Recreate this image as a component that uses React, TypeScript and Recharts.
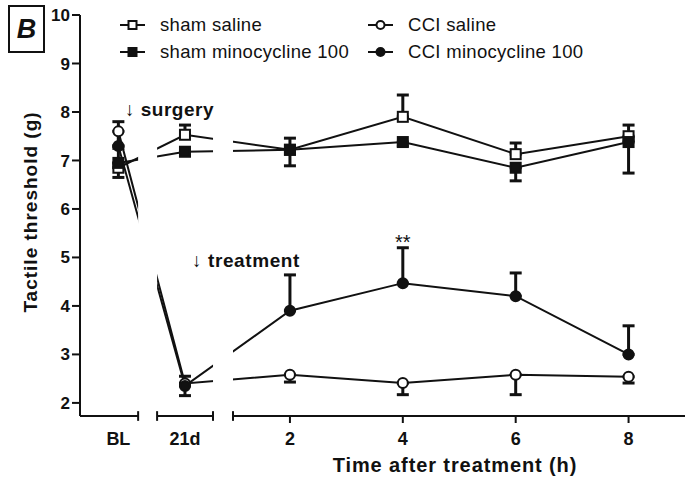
import React from 'react';
import {
  LineChart, Line, XAxis, YAxis, ErrorBar, ReferenceArea, ReferenceLine, ReferenceDot, Legend,
} from 'recharts';

const INK = '#111';
const FONT = '"Liberation Sans", Arial, Helvetica, sans-serif';

// groups: baseline, 21 days after surgery, then hours after treatment
const groupLabels = ['BL', '21d', '2', '4', '6', '8'];
const groupX = [-1.04, 0.14, 2, 4, 6, 8];
const hourTicks = [2, 4, 6, 8];
const yTicks = [2, 3, 4, 5, 6, 7, 8, 9, 10];

// mean tactile threshold (g) and SEM per group
const shamSaline = [6.85, 7.53, 7.22, 7.9, 7.13, 7.5];
const shamSalineSem = [0.4, 0.2, 0.24, 0.45, 0.23, 0.23];
const shamMino = [6.95, 7.18, 7.22, 7.38, 6.85, 7.38];
const shamMinoSem = [0.3, 0.08, 0.33, 0.08, 0.27, 0.64];
const cciSaline = [7.6, 2.4, 2.58, 2.41, 2.58, 2.54];
const cciSalineSem = [0.3, 0.25, 0.15, 0.24, 0.41, 0.13];
const cciMino = [7.3, 2.35, 3.9, 4.47, 4.2, 3.0];
const cciMinoSem = [0.5, 0.2, 0.74, 0.73, 0.48, 0.59];

const X_DOMAIN = [-1.72, 9];
const Y_DOMAIN = [1.73, 10];
// broken x axis: BL | 21d | hours
const axisPieces = [[-1.72, -0.69], [-0.354, 0.637], [0.991, 9]];
const breaks = [[-0.69, -0.354], [0.637, 0.991]];

// one-sided error bars, like the Prism original: [below, above]
const data = groupX.map((x, i) => ({
  x,
  shamSaline: shamSaline[i],
  shamSalineErr: [0, shamSalineSem[i]],
  shamMino: shamMino[i],
  shamMinoErr: [shamMinoSem[i], 0],
  cciSaline: cciSaline[i],
  cciSalineErr: [cciSalineSem[i], 0],
  cciMino: cciMino[i],
  cciMinoErr: [0, cciMinoSem[i]],
}));

const series = [
  { key: 'shamSaline', name: 'sham saline', shape: 'square', filled: false },
  { key: 'shamMino', name: 'sham minocycline 100', shape: 'square', filled: true },
  { key: 'cciSaline', name: 'CCI saline', shape: 'circle', filled: false },
  { key: 'cciMino', name: 'CCI minocycline 100', shape: 'circle', filled: true },
];
const legendOrder = ['shamSaline', 'cciSaline', 'shamMino', 'cciMino'];

function Marker({ cx, cy, shape, filled, size = 10 }: any) {
  if (cx == null || cy == null) return null;
  const fill = filled ? INK : '#fff';
  if (shape === 'square') {
    return <rect x={cx - size / 2} y={cy - size / 2} width={size} height={size} fill={fill} stroke={INK} strokeWidth={2} />;
  }
  return <circle cx={cx} cy={cy} r={size / 2} fill={fill} stroke={INK} strokeWidth={2} />;
}

function LegendBlock() {
  return (
    <div style={{ display: 'grid', gridTemplateColumns: '248px 270px', fontFamily: FONT, fontSize: 18.5, letterSpacing: 0.3, color: INK }}>
      {legendOrder.map(k => {
        const s = series.find(v => v.key === k)!;
        return (
          <div key={k} style={{ display: 'flex', alignItems: 'center', height: 27 }}>
            <svg width={40} height={14} style={{ flex: 'none' }}>
              <line x1={0} y1={7} x2={25} y2={7} stroke={INK} strokeWidth={2} />
              <Marker cx={12.5} cy={7} shape={s.shape} filled={s.filled} size={8} />
            </svg>
            <span style={{ whiteSpace: 'nowrap' }}>{s.name}</span>
          </div>
        );
      })}
    </div>
  );
}

const tickStyle = { fontSize: 18, fontWeight: 'bold', fill: INK, fontFamily: FONT };

export default function App() {
  return (
    <div style={{ position: 'absolute', left: 0, top: 0, width: 695, height: 485, background: '#fff', fontFamily: FONT }}>
      <LineChart width={695} height={485} data={data} margin={{ top: 15, right: 10, bottom: 0, left: 20 }}>
        <XAxis
          type="number"
          dataKey="x"
          domain={X_DOMAIN}
          allowDataOverflow
          ticks={groupX}
          tickFormatter={v => groupLabels[groupX.indexOf(v)]}
          tick={tickStyle}
          tickLine={false}
          axisLine={false}
          tickSize={8}
          tickMargin={8}
          height={69}
          label={{
            content: () => (
              <text x={455} y={472} textAnchor="middle" fontSize={20} letterSpacing={0.9} fontWeight="bold" fill={INK} fontFamily={FONT}>
                Time after treatment (h)
              </text>
            ),
          }}
        />
        <YAxis
          type="number"
          domain={Y_DOMAIN}
          allowDataOverflow
          ticks={yTicks}
          width={60}
          tick={{ ...tickStyle, fontSize: 17 }}
          tickSize={8}
          tickMargin={2}
          axisLine={{ stroke: INK, strokeWidth: 2 }}
          tickLine={{ stroke: INK, strokeWidth: 2 }}
          label={{
            content: () => (
              <text transform="translate(37,212) rotate(-90)" textAnchor="middle" fontSize={19} letterSpacing={1} fontWeight="bold" fill={INK} fontFamily={FONT}>
                Tactile threshold (g)
              </text>
            ),
          }}
        />
        <Legend
          layout="vertical"
          align="center"
          verticalAlign="middle"
          wrapperStyle={{ left: 120, top: 11, width: 540 }}
          content={() => <LegendBlock />}
        />

        {series.map(s => (
          <Line
            key={s.key}
            type="linear"
            dataKey={s.key}
            name={s.name}
            stroke={INK}
            strokeWidth={2}
            isAnimationActive={false}
            activeDot={false}
            dot={(p: any) => <Marker key={`${s.key}-${p.index}`} cx={p.cx} cy={p.cy} shape={s.shape} filled={s.filled} size={10} />}
          >
            <ErrorBar dataKey={`${s.key}Err`} direction="y" width={6} stroke={INK} strokeWidth={3} isAnimationActive={false} />
          </Line>
        ))}

        {breaks.map(([a, b], i) => (
          <ReferenceArea key={`gap${i}`} x1={a} x2={b} y1={2.0} y2={10} fill="#fff" fillOpacity={1} stroke="none" zIndex={450} />
        ))}

        {axisPieces.map(([a, b], i) => (
          <ReferenceLine key={`ax${i}`} segment={[{ x: a, y: Y_DOMAIN[0] }, { x: b, y: Y_DOMAIN[0] }]} stroke={INK} strokeWidth={2} ifOverflow="visible" />
        ))}
        {breaks.flat().map((v, i) => (
          <ReferenceLine key={`cap${i}`} segment={[{ x: v, y: 1.63 }, { x: v, y: 1.83 }]} stroke={INK} strokeWidth={2} ifOverflow="visible" />
        ))}
        {hourTicks.map(h => (
          <ReferenceLine key={`t${h}`} segment={[{ x: h, y: Y_DOMAIN[0] }, { x: h, y: 1.585 }]} stroke={INK} strokeWidth={2} ifOverflow="visible" />
        ))}

        <ReferenceDot
          x={groupX[3]}
          y={cciMino[3] + cciMinoSem[3]}
          r={0}
          stroke="none"
          fill="none"
          label={{ value: '**', position: 'top', offset: -1, fontSize: 20, fill: INK, fontFamily: FONT }}
        />
      </LineChart>

      <div style={{ position: 'absolute', left: 8, top: 5, width: 37, height: 48, boxSizing: 'border-box', border: `2px solid ${INK}`, display: 'flex', alignItems: 'center', justifyContent: 'center', fontSize: 27, fontWeight: 'bold', fontStyle: 'italic', color: INK, lineHeight: 1 }}>
        B
      </div>
      <div style={{ position: 'absolute', left: 125, top: 100, fontSize: 19, letterSpacing: 0.5, lineHeight: 1, color: INK, whiteSpace: 'nowrap' }}>
        <span>↓</span> <b>surgery</b>
      </div>
      <div style={{ position: 'absolute', left: 192, top: 251, fontSize: 19, letterSpacing: 0.6, lineHeight: 1, color: INK, whiteSpace: 'nowrap' }}>
        <span>↓</span> <b>treatment</b>
      </div>
    </div>
  );
}
